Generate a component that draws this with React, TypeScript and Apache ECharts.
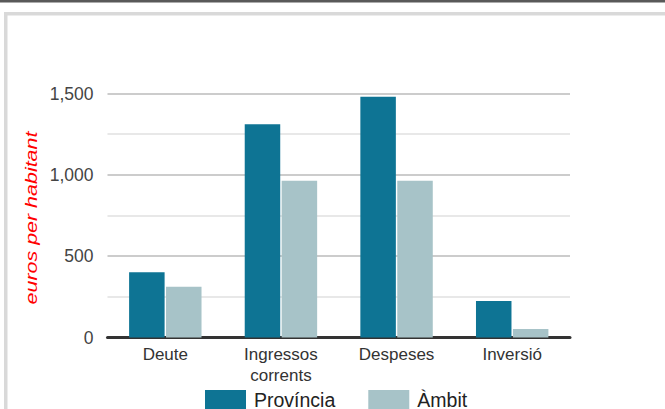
import React, { useEffect, useRef } from "react";
import * as echarts from "echarts";

const categories = ["Deute", "Ingressos corrents", "Despeses", "Inversió"];
const provincia = [401, 1311, 1480, 224];
const ambit = [312, 964, 964, 52];
const seriesNames = ["Província", "Àmbit"];
const yTicks = { min: 0, max: 1500, interval: 500 };
const yAxisTitle = "euros per habitant";

const FONT = "'Liberation Sans', Arial, sans-serif";

export default function App() {
  const ref = useRef<HTMLDivElement>(null);
  useEffect(() => {
    if (!ref.current) return;
    const chart = echarts.init(ref.current, undefined, { renderer: "svg" });
    chart.setOption({
      animation: false,
      backgroundColor: "#ffffff",
      textStyle: { fontFamily: FONT },
      grid: {
        left: 107.5,
        right: 95,
        top: 93.5,
        bottom: 71.5,
        containLabel: false,
        outerBoundsMode: "none",
      },
      legend: {
        left: 205,
        top: 390,
        padding: 0,
        itemWidth: 41,
        itemHeight: 20,
        itemGap: 33,
        icon: "rect",
        textStyle: { fontSize: 19.5, color: "#222", fontFamily: FONT, padding: [0, 0, 0, 3] },
        data: seriesNames,
      },
      xAxis: {
        type: "category",
        data: categories,
        axisLine: { show: true, lineStyle: { color: "#333333", width: 3 } },
        axisTick: { show: false },
        axisLabel: {
          fontSize: 17,
          color: "#333333",
          margin: 6,
          lineHeight: 21,
          interval: 0,
          formatter: (v: string) => v.replace(" ", "\n"),
        },
      },
      yAxis: {
        type: "value",
        min: yTicks.min,
        max: yTicks.max,
        interval: yTicks.interval,
        splitNumber: 3,
        axisLine: { show: false },
        axisTick: { show: false },
        axisLabel: {
          fontSize: 17.5,
          color: "#444444",
          margin: 14,
          formatter: (v: number) => v.toLocaleString("en-US"),
        },
        splitLine: { show: true, lineStyle: { color: "#cccccc", width: 2 } },
        minorTick: { show: false, splitNumber: 2 },
        minorSplitLine: { show: true, lineStyle: { color: "#e8e8e8", width: 2 } },
      },
      series: [
        {
          name: seriesNames[0],
          type: "bar",
          data: provincia,
          barWidth: 35.5,
          barGap: "4%",
          itemStyle: { color: "#0e7494" },
        },
        {
          name: seriesNames[1],
          type: "bar",
          data: ambit,
          barWidth: 35.5,
          barGap: "4%",
          itemStyle: { color: "#a7c3c8" },
        },
      ],
      graphic: [
        {
          type: "rect",
          silent: true,
          z: -10,
          shape: { x: 0, y: 0, width: 665, height: 2.5 },
          style: { fill: "#595959" },
        },
        {
          type: "rect",
          silent: true,
          z: -10,
          shape: { x: 5.75, y: 13.75, width: 720, height: 500 },
          style: { fill: "none", stroke: "#d9d9d9", lineWidth: 3.5 },
        },
        {
          type: "text",
          silent: true,
          x: 31.5,
          y: 218,
          rotation: Math.PI / 2,
          scaleX: 1.3,
          style: {
            text: yAxisTitle,
            font: `italic 16.5px ${FONT}`,
            fill: "#ff0000",
            align: "center",
            verticalAlign: "middle",
          },
        },
      ],
    });
    return () => chart.dispose();
  }, []);
  return (
    <div
      ref={ref}
      style={{ position: "fixed", left: 0, top: 0, width: 665, height: 409, background: "#fff" }}
    />
  );
}
